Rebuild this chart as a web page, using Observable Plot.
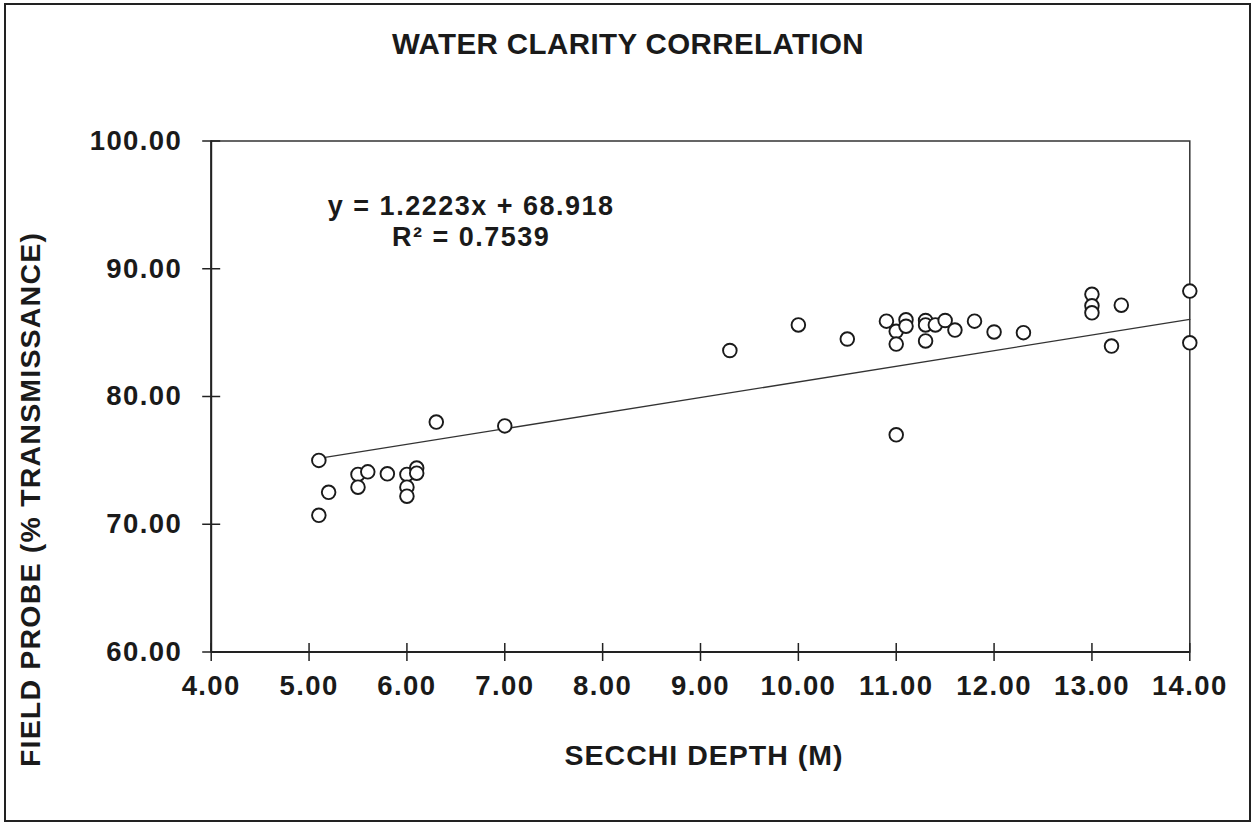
<!DOCTYPE html>
<html><head><meta charset="utf-8">
<script src="https://cdn.jsdelivr.net/npm/d3@7"></script>
<script src="https://cdn.jsdelivr.net/npm/@observablehq/plot@0.6"></script>
<style>
body{margin:0;background:#fff;}
#wrap{position:relative;width:1253px;height:822px;overflow:hidden;}
#border{position:absolute;left:4px;top:3px;width:1243px;height:815px;border:2px solid #222;pointer-events:none;}
svg text{font-weight:bold;}
g[aria-label="x-axis tick label"] text, g[aria-label="y-axis tick label"] text{letter-spacing:1.4px;}
</style>
</head><body>
<div id="wrap"><div id="border"></div></div>
<script>
// Data
const secchiDepth = [5.1,5.1,5.2,5.5,5.5,5.6,5.8,6.0,6.0,6.0,6.1,6.1,6.3,7.0,9.3,10.0,10.5,10.9,11.0,11.0,11.1,11.1,11.3,11.3,11.3,11.4,11.5,11.6,11.8,12.0,12.3,11.0,13.0,13.0,13.0,13.3,13.2,14.0,14.0];
const fieldProbe  = [75.0,70.7,72.5,73.9,72.9,74.1,73.95,73.9,72.9,72.2,74.4,74.0,78.0,77.7,83.6,85.6,84.5,85.9,85.1,84.1,86.0,85.5,85.95,85.6,84.35,85.6,85.95,85.2,85.9,85.05,85.0,77.0,88.0,87.1,86.55,87.15,83.95,88.25,84.2];
const xTicks = [4,5,6,7,8,9,10,11,12,13,14];
const yTicks = [60,70,80,90,100];
const slope = 1.2223, intercept = 68.918;
const titleText = "WATER CLARITY CORRELATION";
const xLabel = "SECCHI DEPTH (M)";
const yLabel = "FIELD PROBE (% TRANSMISSANCE)";
const eqLines = ["y = 1.2223x + 68.918", "R\u00B2 = 0.7539"];

const points = secchiDepth.map((x, i) => ({x, y: fieldProbe[i]}));
const xMin = d3.min(secchiDepth), xMax = d3.max(secchiDepth);
const trend = [xMin, xMax].map(x => ({x, y: slope * x + intercept}));

const vTick = {draw(c){ c.moveTo(0,-9); c.lineTo(0,9); }};
const hTick = {draw(c){ c.moveTo(-9,0); c.lineTo(9,0); }};

const ink = "#1a1a1a";
const chart = Plot.plot({
  width: 1253, height: 822,
  marginLeft: 210.7, marginRight: 63.7, marginTop: 140.5, marginBottom: 170.5,
  style: {fontFamily: "'Liberation Sans', Arial, Helvetica, sans-serif", color: ink, background: "#fff"},
  x: {domain: [4, 14]},
  y: {domain: [60, 100]},
  marks: [
    Plot.frame({stroke: "#333", strokeWidth: 1.5}),
    Plot.ruleX([4], {stroke: "#222", strokeWidth: 2}),
    Plot.ruleY([60], {stroke: "#222", strokeWidth: 2}),
    Plot.dot(xTicks, {x: d => d, y: 60, symbol: vTick, r: 1, fill: "none", stroke: "#222", strokeWidth: 1.5}),
    Plot.dot(yTicks, {x: 4, y: d => d, symbol: hTick, r: 1, fill: "none", stroke: "#222", strokeWidth: 1.5}),
    Plot.axisX(xTicks, {tickSize: 0, tickPadding: 23, tickFormat: d => d.toFixed(2), fontSize: 27.5, label: null}),
    Plot.axisY(yTicks, {tickSize: 0, tickPadding: 29, tickFormat: d => d.toFixed(2), fontSize: 27.5, label: null}),
    Plot.line(trend, {x: "x", y: "y", stroke: "#333", strokeWidth: 1.3}),
    Plot.dot(points, {x: "x", y: "y", r: 6.8, fill: "#fff", stroke: "#1a1a1a", strokeWidth: 1.9}),
    Plot.text([titleText], {text: d => d, frameAnchor: "top", dx: -72.5, dy: -96.5, lineAnchor: "middle", fontSize: 29.5, fill: ink}),
    Plot.text([xLabel], {text: d => d, frameAnchor: "bottom", dx: 3.5, dy: 103.5, lineAnchor: "middle", fontSize: 28.5, fill: ink}),
    Plot.text([yLabel], {text: d => d, frameAnchor: "left", dx: -180, dy: 103, rotate: -90, textAnchor: "middle", lineAnchor: "middle", fontSize: 28.5, fill: ink}),
    Plot.text([eqLines[0]], {text: d => d, frameAnchor: "top-left", dx: 260, dy: 65.5, textAnchor: "middle", lineAnchor: "middle", fontSize: 27, fill: ink}),
    Plot.text([eqLines[1]], {text: d => d, frameAnchor: "top-left", dx: 260, dy: 96, textAnchor: "middle", lineAnchor: "middle", fontSize: 27, fill: ink})
  ]
});
// per-text letter spacing to match the reference's wide glyphs
const spacing = new Map([[titleText, "0.4px"], [xLabel, "1px"], [yLabel, "1.2px"], [eqLines[0], "1.5px"], [eqLines[1], "1.5px"]]);
d3.select(chart).selectAll("text").each(function() {
  const s = spacing.get(this.textContent);
  if (s) this.style.letterSpacing = s;
});
document.getElementById("wrap").prepend(chart);
</script>
</body></html>
